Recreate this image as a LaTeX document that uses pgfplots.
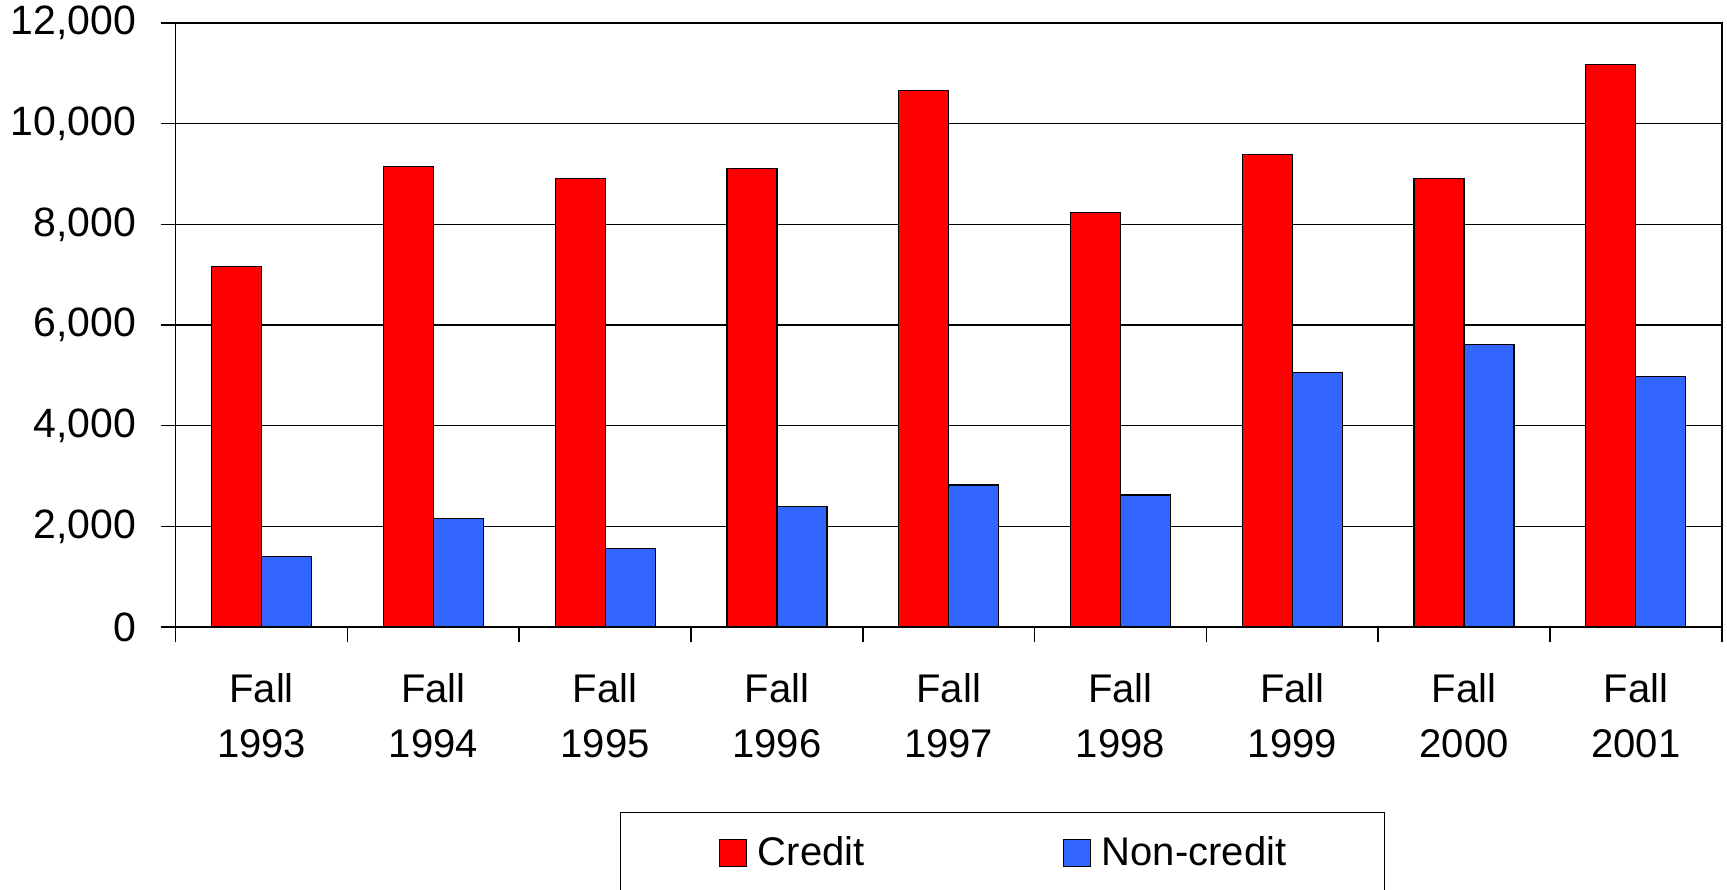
\documentclass[border=0pt]{standalone}
\usepackage{fontspec}
\setmainfont{Liberation Sans}
\usepackage{pgfplots}
\pgfplotsset{compat=1.18}
\definecolor{CreditRed}{HTML}{FF0000}
\definecolor{NonBlue}{HTML}{3366FF}

\begin{document}
\begin{tikzpicture}
\begin{axis}[
  at={(0pt,0pt)}, anchor=south west,
  scale only axis, width=773pt, height=302pt,
  xmin=-0.5, xmax=8.5, ymin=0, ymax=12000,
  xtick={-0.5,0.5,...,8.5},
  x tick label as interval,
  xticklabels={{Fall\\1993},{Fall\\1994},{Fall\\1995},{Fall\\1996},{Fall\\1997},{Fall\\1998},{Fall\\1999},{Fall\\2000},{Fall\\2001}},
  ytick={0,2000,...,12000},
  scaled y ticks=false,
  ymajorgrids, major grid style={black,line width=0.8pt},
  axis line style={black,line width=0.8pt},
  tick style={black,line width=0.8pt},
  tick align=outside, tick pos=left, major tick length=7.5pt,
  tick label style={font=\fontsize{20}{27.5}\selectfont},
  xticklabel style={align=center, inner sep=0pt, yshift=-15.5pt},
  yticklabel style={inner sep=0pt, xshift=-12pt, font=\fontsize{20.5}{27.5}\selectfont,
    /pgf/number format/1000 sep={,}, /pgf/number format/assume math mode=true},
  legend style={at={(0.5348,-0.3063)}, anchor=north, draw=black, line width=0.7pt,
    legend columns=2, font=\fontsize{20}{24}\selectfont,
    inner xsep=49pt, inner ysep=12pt, nodes={inner sep=0pt},
    /tikz/every odd column/.append style={column sep=5.5pt},
    /tikz/every even column/.append style={column sep=99pt}},
]
\addplot[ybar, fill=CreditRed, draw=black, line width=0.6pt, bar width=0.291, bar shift=-0.1455,
  legend image code/.code={\draw[fill=CreditRed,draw=black,line width=0.6pt] (0pt,-6.75pt) rectangle (13.5pt,6.75pt);}]
  coordinates {(0,7159) (1,9146) (2,8918) (3,9115) (4,10656) (5,8232) (6,9384) (7,8907) (8,11172)};
\addlegendentry{Credit}
\addplot[ybar, fill=NonBlue, draw=black, line width=0.6pt, bar width=0.291, bar shift=0.1455,
  legend image code/.code={\draw[fill=NonBlue,draw=black,line width=0.6pt] (0pt,-6.75pt) rectangle (13.5pt,6.75pt);}]
  coordinates {(0,1397) (1,2152) (2,1556) (3,2391) (4,2821) (5,2623) (6,5053) (7,5609) (8,4974)};
\addlegendentry{Non-credit}
\end{axis}
\pgfresetboundingbox
\useasboundingbox (-87.85pt,-131pt) rectangle (775.65pt,313.5pt);
\end{tikzpicture}
\end{document}
